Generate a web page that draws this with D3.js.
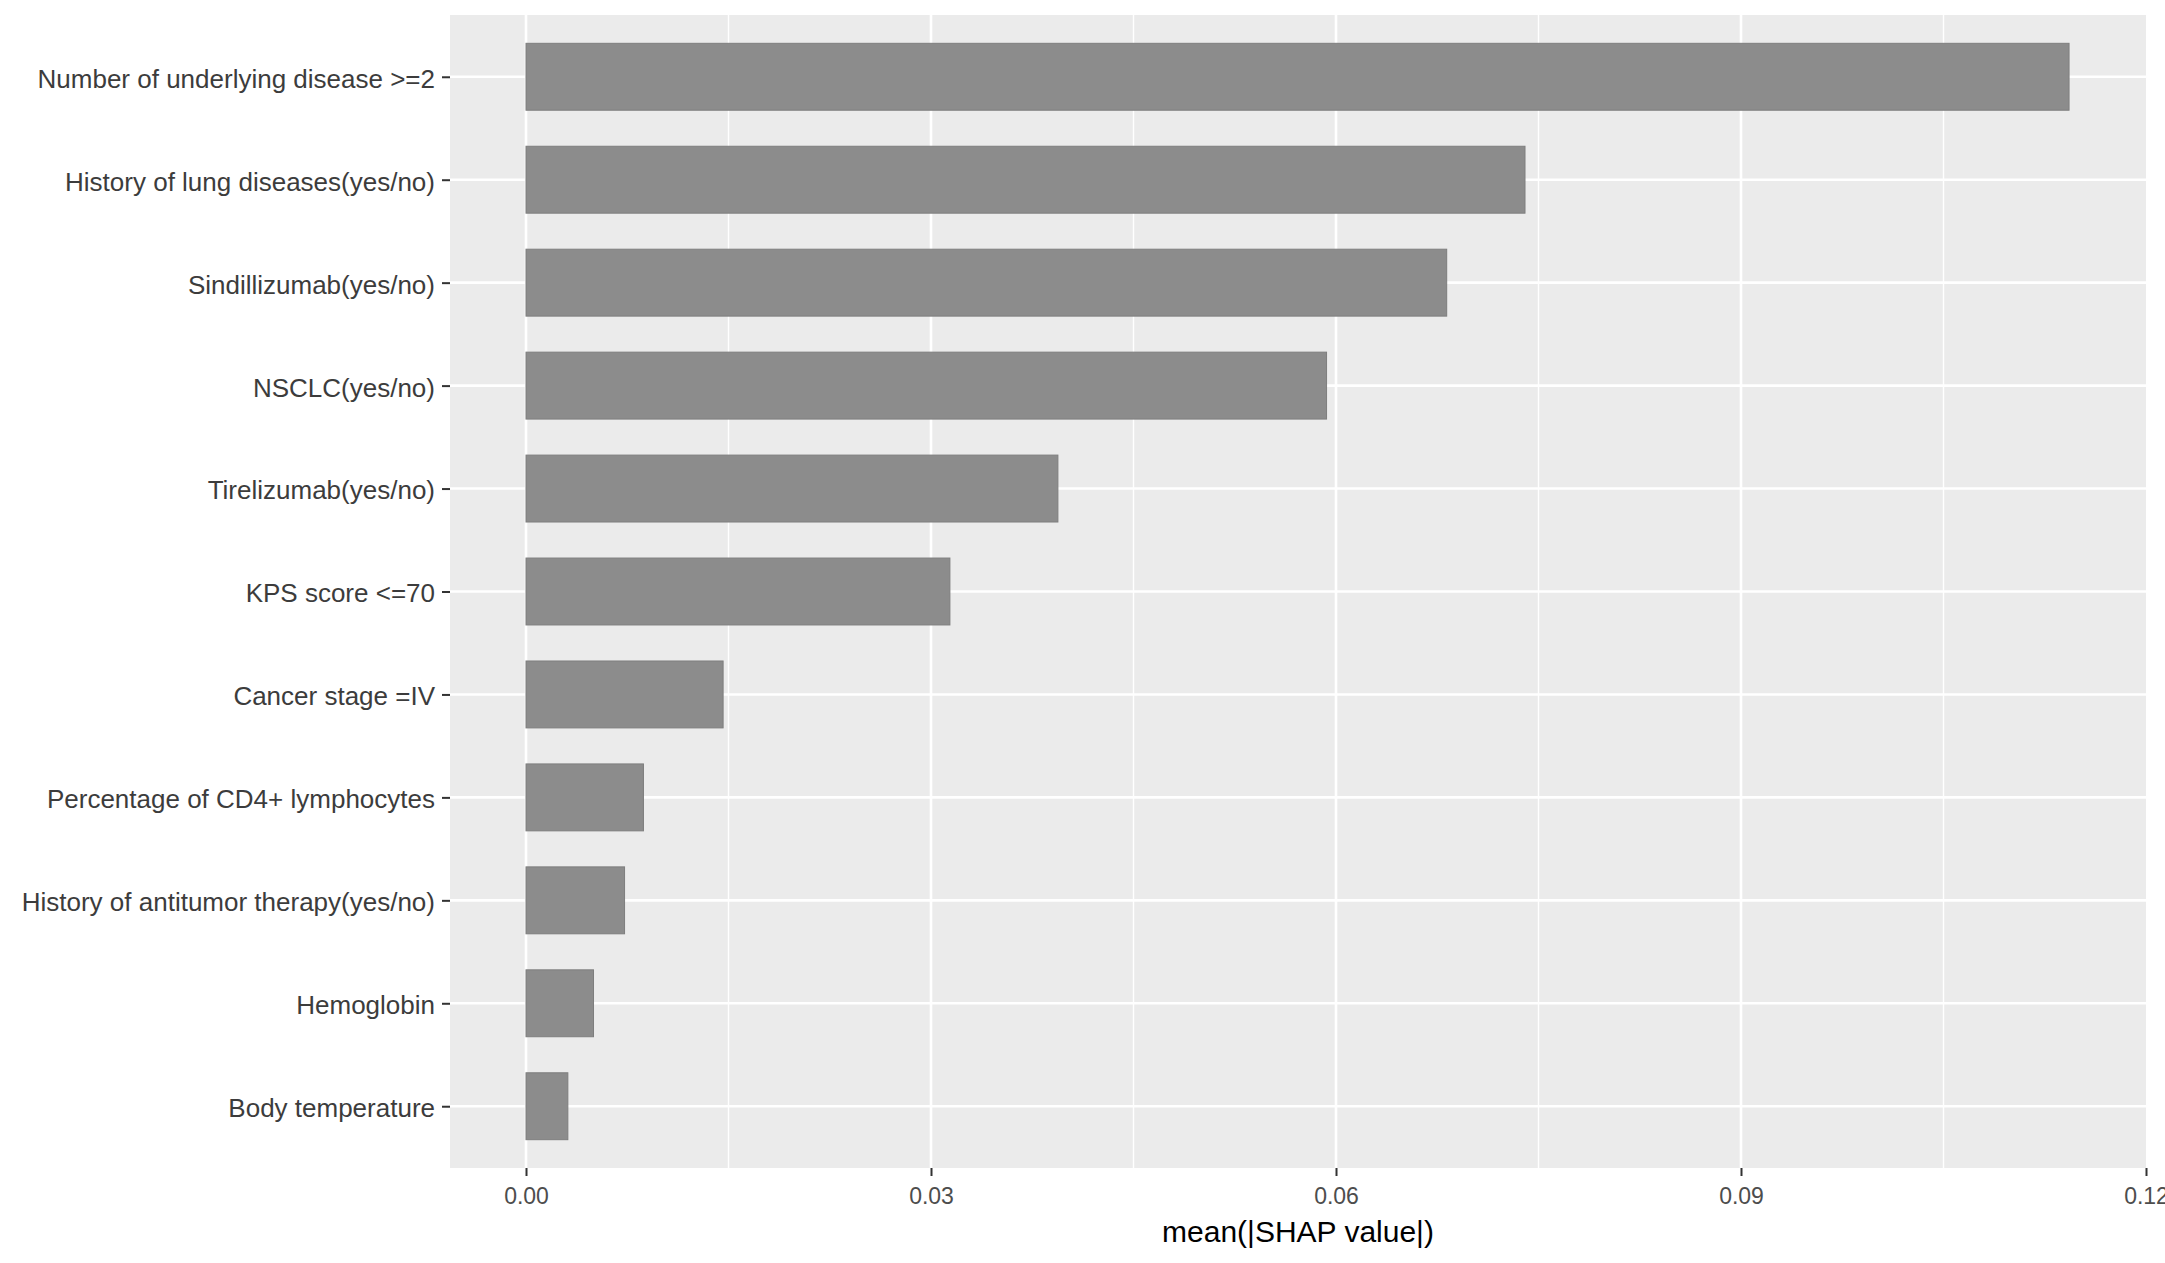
<!DOCTYPE html>
<html>
<head>
<meta charset="utf-8">
<script src="https://cdn.jsdelivr.net/npm/d3@7"></script>
<style>
  body { margin: 0; background: #fff; }
  text { font-family: "Liberation Sans", Arial, sans-serif; }
</style>
</head>
<body>
<div id="chart"></div>
<script>
// features, top to bottom
var features = [
  "Number of underlying disease >=2",
  "History of lung diseases(yes/no)",
  "Sindillizumab(yes/no)",
  "NSCLC(yes/no)",
  "Tirelizumab(yes/no)",
  "KPS score <=70",
  "Cancer stage =IV",
  "Percentage of CD4+ lymphocytes",
  "History of antitumor therapy(yes/no)",
  "Hemoglobin",
  "Body temperature"
];
// mean(|SHAP value|) per feature
var shapValues = [0.1143, 0.0740, 0.0682, 0.0593, 0.0394, 0.0314, 0.0146, 0.0087, 0.0073, 0.0050, 0.0031];
var majorTicks = [0, 0.03, 0.06, 0.09, 0.12];
var minorTicks = [0.015, 0.045, 0.075, 0.105];
var xTitle = "mean(|SHAP value|)";

var tot_width = 2165, tot_height = 1263;
var panel = {left: 450, right: 2146, top: 15, bottom: 1168};

var svg = d3.select("#chart").append("svg")
  .attr("width", tot_width).attr("height", tot_height);

var x = d3.scaleLinear()
  .domain([-0.00563, 0.12])
  .range([panel.left, panel.right]);

// discrete axis, ggplot style expansion of 0.6 units each side
var y = d3.scalePoint()
  .domain(features)
  .range([panel.top, panel.bottom])
  .padding(0.6);
var barH = y.step() * 0.65;

// panel background
svg.append("rect")
  .attr("x", panel.left).attr("y", panel.top)
  .attr("width", panel.right - panel.left)
  .attr("height", panel.bottom - panel.top)
  .attr("fill", "#EBEBEB");

// grid
var grid = svg.append("g");
grid.selectAll("line.minor")
  .data(minorTicks).enter().append("line")
    .attr("class", "minor")
    .attr("x1", function(d) { return x(d); }).attr("x2", function(d) { return x(d); })
    .attr("y1", panel.top).attr("y2", panel.bottom)
    .attr("stroke", "#fff").attr("stroke-width", 1.4);
grid.selectAll("line.majorx")
  .data(majorTicks.filter(function(d) { return x(d) < panel.right - 1; })).enter().append("line")
    .attr("class", "majorx")
    .attr("x1", function(d) { return x(d); }).attr("x2", function(d) { return x(d); })
    .attr("y1", panel.top).attr("y2", panel.bottom)
    .attr("stroke", "#fff").attr("stroke-width", 2.6);
grid.selectAll("line.majory")
  .data(features).enter().append("line")
    .attr("class", "majory")
    .attr("x1", panel.left).attr("x2", panel.right)
    .attr("y1", function(d) { return y(d); }).attr("y2", function(d) { return y(d); })
    .attr("stroke", "#fff").attr("stroke-width", 2.6);

// bars
svg.selectAll("rect.bar")
  .data(features)
  .enter()
    .append("rect")
      .attr("class", "bar")
      .attr("x", x(0))
      .attr("y", function(d) { return y(d) - barH / 2; })
      .attr("width", function(d, i) { return x(shapValues[i]) - x(0); })
      .attr("height", barH)
      .attr("fill", "#8C8C8C")
      .attr("stroke", "#7E7E7E")
      .attr("stroke-width", 1);

// y axis
var yAxis = svg.append("g")
  .attr("transform", "translate(" + panel.left + ",0)")
  .call(d3.axisLeft(y).tickSize(8).tickPadding(7));
yAxis.select(".domain").remove();
yAxis.selectAll(".tick line").attr("stroke", "#333").attr("stroke-width", 2);
yAxis.selectAll(".tick text")
  .attr("fill", "#3c3c3c")
  .style("font-size", "26px")
  .attr("dy", "0.4em");

// x axis
var xAxis = svg.append("g")
  .attr("transform", "translate(0," + panel.bottom + ")")
  .call(d3.axisBottom(x).tickValues(majorTicks).tickFormat(d3.format(".2f")).tickSize(8).tickPadding(12));
xAxis.select(".domain").remove();
xAxis.selectAll(".tick line").attr("stroke", "#333").attr("stroke-width", 2);
xAxis.selectAll(".tick text")
  .attr("fill", "#4D4D4D")
  .style("font-size", "23px");

// axis title
svg.append("text")
  .attr("x", (panel.left + panel.right) / 2)
  .attr("y", 1242)
  .attr("text-anchor", "middle")
  .attr("fill", "#000")
  .style("font-size", "30px")
  .text(xTitle);
</script>
</body>
</html>
